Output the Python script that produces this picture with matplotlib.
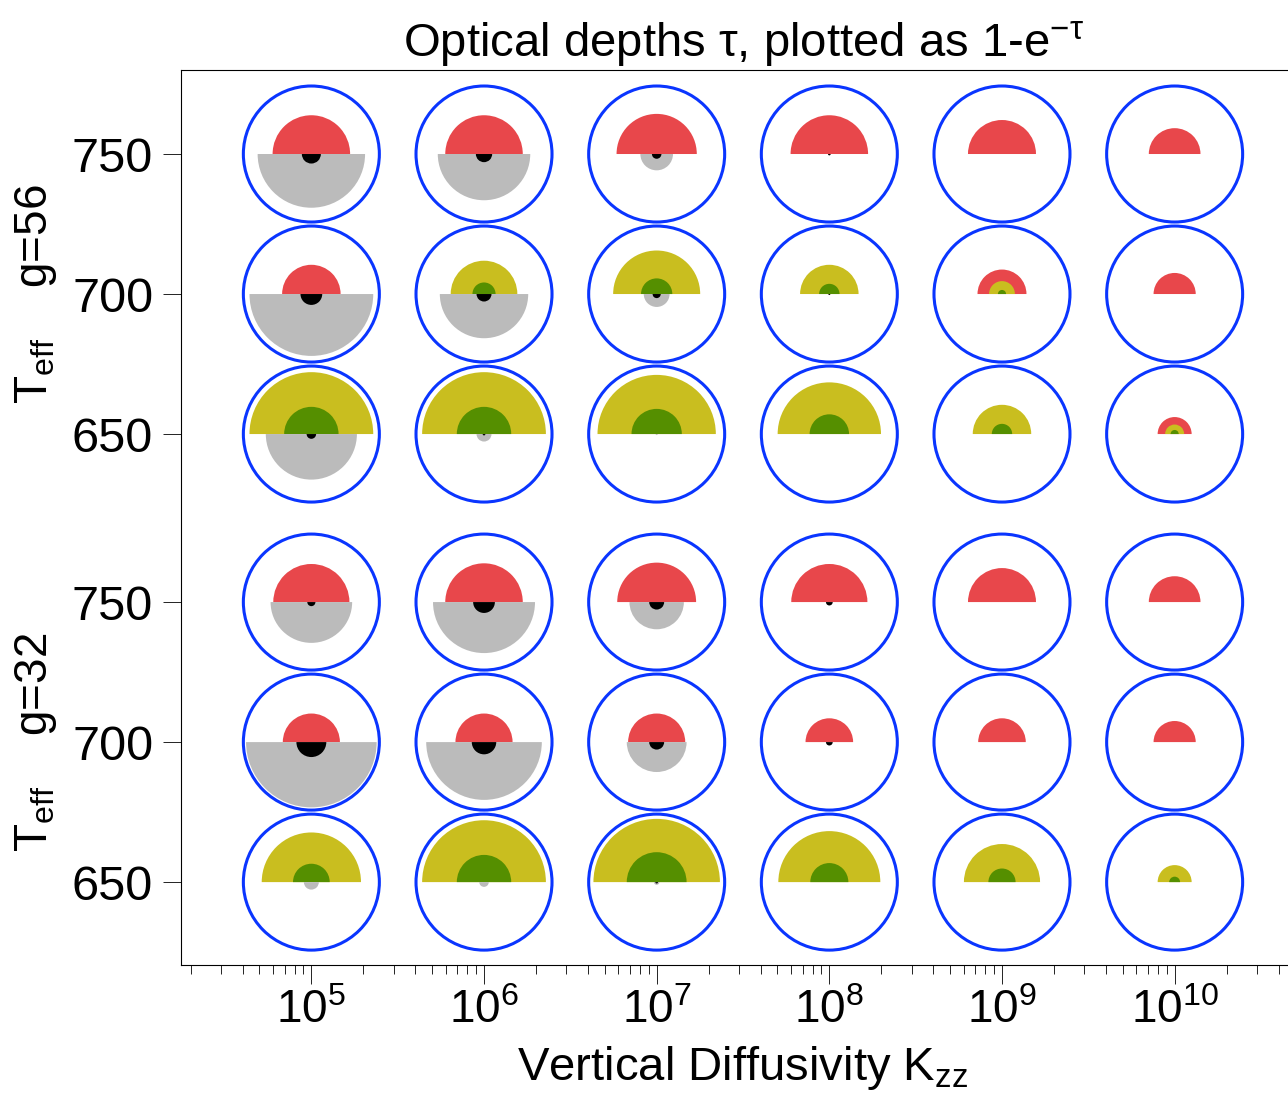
import matplotlib
matplotlib.use("Agg")
import matplotlib.pyplot as plt
import matplotlib.transforms as mtransforms
from matplotlib.patches import Wedge, Circle
from matplotlib.ticker import LogLocator, LogFormatterSciNotation, FixedLocator
import numpy as np

plt.rcParams['font.family'] = ['Liberation Sans', 'DejaVu Sans']
plt.rcParams['mathtext.fontset'] = 'custom'
plt.rcParams['mathtext.rm'] = 'Liberation Sans'
plt.rcParams['mathtext.it'] = 'Liberation Sans:italic'

# grid of models
kzz = [1e5, 1e6, 1e7, 1e8, 1e9, 1e10]
teff = [750, 700, 650]
gravity = [56, 32]
group_offset = [160, 0]   # vertical shift of each gravity block (in K)

# values plotted as 1-exp(-tau)
# [gravity][teff][kzz]
frac_red = [
    [[0.57, 0.57, 0.59, 0.57, 0.50, 0.38],
     [0.43, 0.00, 0.00, 0.00, 0.36, 0.31],
     [0.00, 0.00, 0.00, 0.00, 0.00, 0.25]],
    [[0.56, 0.57, 0.58, 0.56, 0.50, 0.38],
     [0.42, 0.42, 0.42, 0.35, 0.35, 0.31],
     [0.00, 0.00, 0.00, 0.00, 0.00, 0.00]],
]
frac_yellow = [
    [[0.00, 0.00, 0.00, 0.00, 0.00, 0.00],
     [0.00, 0.49, 0.64, 0.43, 0.19, 0.00],
     [0.91, 0.91, 0.87, 0.76, 0.43, 0.14]],
    [[0.00, 0.00, 0.00, 0.00, 0.00, 0.00],
     [0.00, 0.00, 0.00, 0.00, 0.00, 0.00],
     [0.73, 0.91, 0.93, 0.75, 0.56, 0.25]],
]
frac_green = [
    [[0.00, 0.00, 0.00, 0.00, 0.00, 0.00],
     [0.00, 0.17, 0.23, 0.15, 0.06, 0.00],
     [0.40, 0.40, 0.37, 0.29, 0.15, 0.06]],
    [[0.00, 0.00, 0.00, 0.00, 0.00, 0.00],
     [0.00, 0.00, 0.00, 0.00, 0.00, 0.00],
     [0.27, 0.40, 0.44, 0.28, 0.20, 0.08]],
]
frac_grey = [
    [[0.79, 0.68, 0.24, 0.00, 0.00, 0.00],
     [0.91, 0.65, 0.19, 0.00, 0.00, 0.00],
     [0.67, 0.11, 0.015, 0.00, 0.00, 0.00]],
    [[0.60, 0.75, 0.40, 0.00, 0.00, 0.00],
     [0.96, 0.85, 0.44, 0.00, 0.00, 0.00],
     [0.11, 0.07, 0.04, 0.00, 0.00, 0.00]],
]
frac_black = [
    [[0.14, 0.12, 0.07, 0.02, 0.00, 0.00],
     [0.16, 0.11, 0.06, 0.015, 0.00, 0.00],
     [0.07, 0.02, 0.00, 0.00, 0.00, 0.00]],
    [[0.06, 0.16, 0.11, 0.05, 0.00, 0.00],
     [0.22, 0.18, 0.11, 0.05, 0.00, 0.00],
     [0.00, 0.00, 0.02, 0.00, 0.00, 0.00]],
]

RED = '#E8474B'
YELLOW = '#C9BE1F'
GREEN = '#558F00'
GREY = '#BBBBBB'
BLUE = '#0A35FF'

fig = plt.figure(figsize=(12.88, 10.97), dpi=100)
ax = fig.add_axes([181/1288, 132/1097, 1124/1288, 895/1097])
ax.set_xscale('log')
ax.set_xlim(10**4.245, 10**10.755)
ax.set_ylim(620.4, 940.0)

R = 0.68  # circle radius in inches

for gi in range(len(gravity)):
    for ti in range(len(teff)):
        yv = teff[ti] + group_offset[gi]
        for ki in range(len(kzz)):
            trans = fig.dpi_scale_trans + mtransforms.ScaledTranslation(kzz[ki], yv, ax.transData)
            upper = [(frac_red, RED), (frac_yellow, YELLOW), (frac_green, GREEN)]
            lower = [(frac_grey, GREY), (frac_black, 'black')]
            for arr, col in upper:
                v = arr[gi][ti][ki]
                if v > 0:
                    ax.add_patch(Wedge((0, 0), v*R, 0, 180, transform=trans,
                                       facecolor=col, edgecolor='none'))
            for arr, col in lower:
                v = arr[gi][ti][ki]
                if v > 0:
                    ax.add_patch(Wedge((0, 0), v*R, 180, 360, transform=trans,
                                       facecolor=col, edgecolor='none'))
            ax.add_patch(Circle((0, 0), R, transform=trans, fill=False,
                                edgecolor=BLUE, linewidth=2.2))

# y ticks: Teff for each gravity block
yticks = [t + off for off in group_offset for t in teff]
ax.yaxis.set_major_locator(FixedLocator(yticks))
ax.set_yticklabels([str(t) for off in group_offset for t in teff])

ax.xaxis.set_major_locator(FixedLocator(kzz))
ax.xaxis.set_minor_locator(LogLocator(base=10, subs=np.arange(2, 10), numticks=20))
ax.xaxis.set_major_formatter(LogFormatterSciNotation())
ax.xaxis.set_minor_formatter(plt.NullFormatter())

ax.tick_params(axis='x', which='major', direction='out', length=14, width=0.6,
               labelsize=33, pad=3)
ax.tick_params(axis='x', which='minor', direction='out', length=6.5, width=0.6)
ax.tick_params(axis='y', which='major', direction='out', length=13, width=0.6,
               labelsize=35, pad=7)
for s in ax.spines.values():
    s.set_linewidth(0.8)

ax.set_xlabel(r"Vertical Diffusivity K$_{\mathregular{zz}}$", fontsize=34, labelpad=8)
ax.set_title(r"Optical depths τ, plotted as 1-e$^{\mathregular{-τ}}$", fontsize=34, pad=10)

for gi in range(len(gravity)):
    ymid = teff[1] + group_offset[gi]
    ypix = ax.transData.transform((1e7, ymid))[1]
    fig.text(36/1288, ypix/1097, r"T$_{\mathregular{eff}}$    g=%d" % gravity[gi],
             rotation=90, ha='center', va='center', fontsize=33)

fig.savefig('out.png', dpi=100)
